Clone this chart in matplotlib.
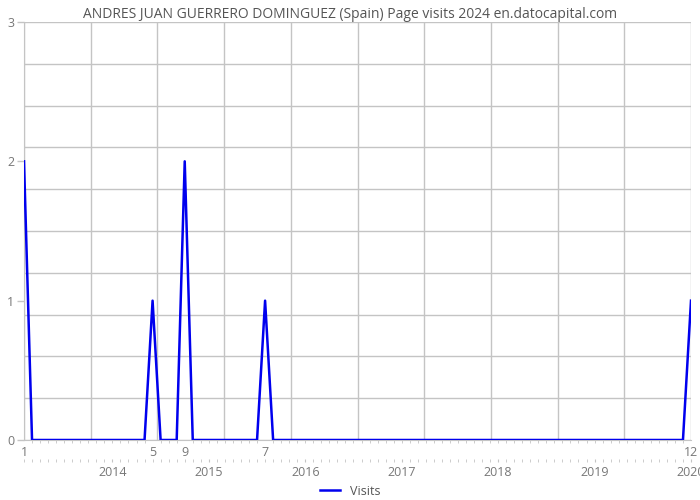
import numpy as np
import matplotlib
matplotlib.use('Agg')
import matplotlib.pyplot as plt

plt.rcParams['font.family'] = ['Open Sans', 'DejaVu Sans']

# ── DONNÉES ──────────────────────────────────────────────────────────────────
TITLE = 'ANDRES JUAN GUERRERO DOMINGUEZ (Spain) Page visits 2024 en.datocapital.com'

# visites mensuelles, janv. 2013 -> déc. 2019 (une ligne par an)
visits = [
    2, 0, 0, 0, 0, 0, 0, 0, 0, 0, 0, 0,   # 2013
    0, 0, 0, 0, 1, 0, 0, 0, 2, 0, 0, 0,   # 2014
    0, 0, 0, 0, 0, 0, 1, 0, 0, 0, 0, 0,   # 2015
    0, 0, 0, 0, 0, 0, 0, 0, 0, 0, 0, 0,   # 2016
    0, 0, 0, 0, 0, 0, 0, 0, 0, 0, 0, 0,   # 2017
    0, 0, 0, 0, 0, 0, 0, 0, 0, 0, 0, 0,   # 2018
    0, 0, 0, 0, 0, 0, 0, 0, 0, 0, 0, 1,   # 2019
]
month_tick_idx = [0, 16, 20, 30, 83]
month_tick_labels = ['1', '5', '9', '7', '12']
year_labels = ['2014', '2015', '2016', '2017', '2018', '2019', '2020']
year_tick_idx = [11, 23, 35, 47, 59, 71, 83]
y_ticks = [0, 1, 2, 3]
legend_label = 'Visits'

GREY = '#777777'
GRID = '#c4c4c4'

# ── FIGURE ───────────────────────────────────────────────────────────────────
fig = plt.figure(figsize=(7, 5), dpi=100)
ax = fig.add_axes([24 / 700, 60 / 500, 667 / 700, 418 / 500])

x = np.arange(len(visits))
n = len(visits) - 1

for gx in np.linspace(0, n, 11):
    ax.axvline(gx, color=GRID, lw=1, zorder=0)
for gy in np.linspace(0, 3, 11):
    ax.axhline(gy, color=GRID, lw=1, zorder=0)

ax.plot(x, visits, color='#0000ee', lw=1.8, label=legend_label, zorder=3)

ax.set_xlim(0, n)
ax.set_ylim(0, 3)

for s in ['top', 'right']:
    ax.spines[s].set_visible(False)
ax.spines['left'].set_color(GRID)
ax.spines['bottom'].set_color(GRID)

ax.set_yticks(y_ticks)
ax.set_yticklabels([str(v) for v in y_ticks])
ax.tick_params(axis='y', colors=GREY, labelsize=9, length=5, width=1,
               color=GRID, pad=2)

ax.set_xticks(month_tick_idx)
ax.set_xticklabels(month_tick_labels)
ax.set_xticks(x, minor=True)
ax.tick_params(axis='x', which='major', colors=GREY, labelsize=9,
               length=0, pad=4)
ax.tick_params(axis='x', which='minor', length=2, color=GRID)

sec = ax.secondary_xaxis(-0.045)
sec.spines['bottom'].set_visible(False)
sec.set_xticks(year_tick_idx)
sec.set_xticklabels(year_labels)
sec.set_xticks(x, minor=True)
sec.tick_params(axis='x', which='major', colors=GREY, labelsize=9,
                length=2, color=GRID, pad=3)
sec.tick_params(axis='x', which='minor', length=2, color=GRID)

fig.suptitle(TITLE, x=0.5, y=0.985, fontsize=10, color='#555555')

fig.legend(loc='lower center', bbox_to_anchor=(0.5, -0.018), frameon=False,
           fontsize=9, labelcolor='#555555', handlelength=1.6)

fig.savefig('out.png', dpi=100)
